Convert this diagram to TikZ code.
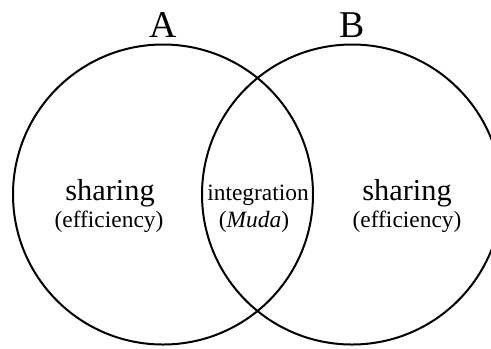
\documentclass[tikz,border=0pt]{standalone}
\usepackage{fontspec}
\setmainfont{Liberation Serif}
\begin{document}
\begin{tikzpicture}[x=1bp,y=-1bp,
  setcircle/.style={draw=black,line width=2bp,circle,minimum size=300bp,inner sep=0pt},
  lbl/.style={anchor=base,inner sep=0pt,text=black}]
\useasboundingbox (0,0) rectangle (491,348);
\node[setcircle] (ca) at (163,194.5) {};
\node[setcircle] (cb) at (352,194.5) {};
\node[lbl,font=\fontsize{38}{40}\selectfont] (la) at (163,37) {A};
\node[lbl,font=\fontsize{38}{40}\selectfont] (lb) at (352,37) {B};
\node[lbl,font=\fontsize{30.5}{32}\selectfont] (s1) at (110,200) {sharing};
\node[lbl,font=\fontsize{23.5}{26}\selectfont] (e1) at (109,227) {(efficiency)};
\node[lbl,font=\fontsize{30.5}{32}\selectfont] (s2) at (407,200) {sharing};
\node[lbl,font=\fontsize{23.5}{26}\selectfont] (e2) at (407,227) {(efficiency)};
\node[lbl,font=\fontsize{23.5}{26}\selectfont] (ig) at (258,200) {integration};
\node[lbl,font=\fontsize{23.5}{26}\selectfont] (mu) at (254,227) {(\textit{Muda})};
\end{tikzpicture}
\end{document}
